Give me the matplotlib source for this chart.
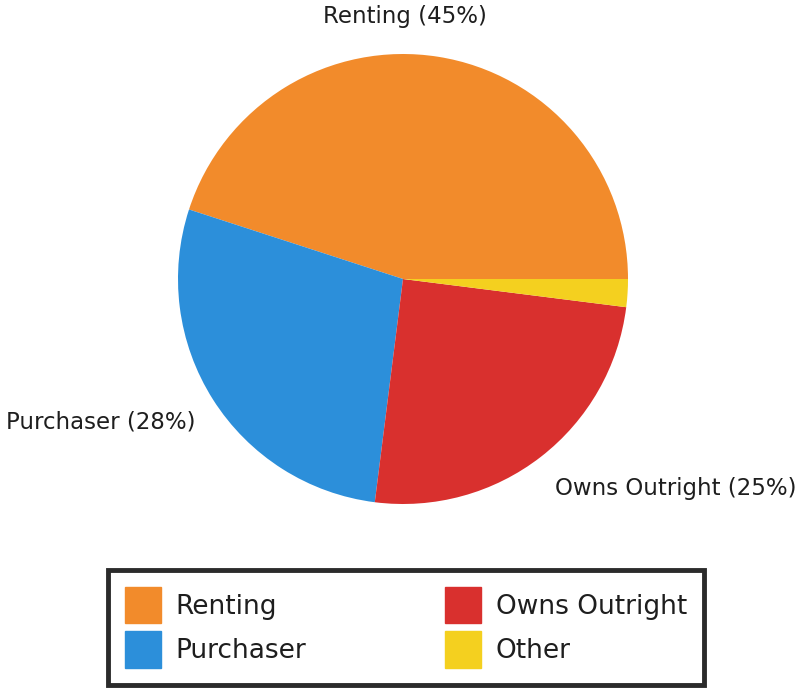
import matplotlib.pyplot as plt
from matplotlib.patches import Patch

# data
categories = ['Renting', 'Purchaser', 'Owns Outright', 'Other']
shares = [45, 28, 25, 2]
colors = ['#F28B2B', '#2C8FDA', '#D9302E', '#F4D01F']

W, H = 807, 688
fig = plt.figure(figsize=(W / 100, H / 100), dpi=100, facecolor='white')

# pie centre ~ (403, 279) px, radius ~225 px
cx, cy, r = 403, 279, 225
ax = fig.add_axes([(cx - r) / W, (H - cy - r) / H, 2 * r / W, 2 * r / H])
ax.pie(shares, colors=colors, startangle=0, counterclock=True,
       wedgeprops=dict(linewidth=0))
ax.set_xlim(-1, 1)
ax.set_ylim(-1, 1)
ax.set_aspect('equal')
ax.axis('off')

# slice labels (Other is not labelled in the original)
lab_font = dict(fontsize=16.5, color='#1e1e1e', family='DejaVu Sans')
fig.text(405 / W, 1 - 17 / H, f'{categories[0]} ({shares[0]}%)',
         ha='center', va='center', **lab_font)
fig.text(196 / W, 1 - 422 / H, f'{categories[1]} ({shares[1]}%)',
         ha='right', va='center', **lab_font)
fig.text(555 / W, 1 - 488 / H, f'{categories[2]} ({shares[2]}%)',
         ha='left', va='center', **lab_font)

# legend
handles = [Patch(facecolor=c, edgecolor=c, label=l) for c, l in zip(colors, categories)]
leg = fig.legend(handles=handles, ncol=2, loc='lower left',
                 bbox_to_anchor=(108 / W, 3 / H, 596 / W, 110 / H),
                 mode='expand', fontsize=19, frameon=True, fancybox=False,
                 framealpha=1,
                 handlelength=1.35, handleheight=1.75, handletextpad=0.55,
                 labelspacing=0.3, borderpad=0.65, borderaxespad=0,
                 columnspacing=2.0)
leg.get_frame().set_edgecolor('#2b2b2b')
leg.get_frame().set_linewidth(3.5)
for t in leg.get_texts():
    t.set_color('#1e1e1e')

fig.savefig('out.png', dpi=100)
